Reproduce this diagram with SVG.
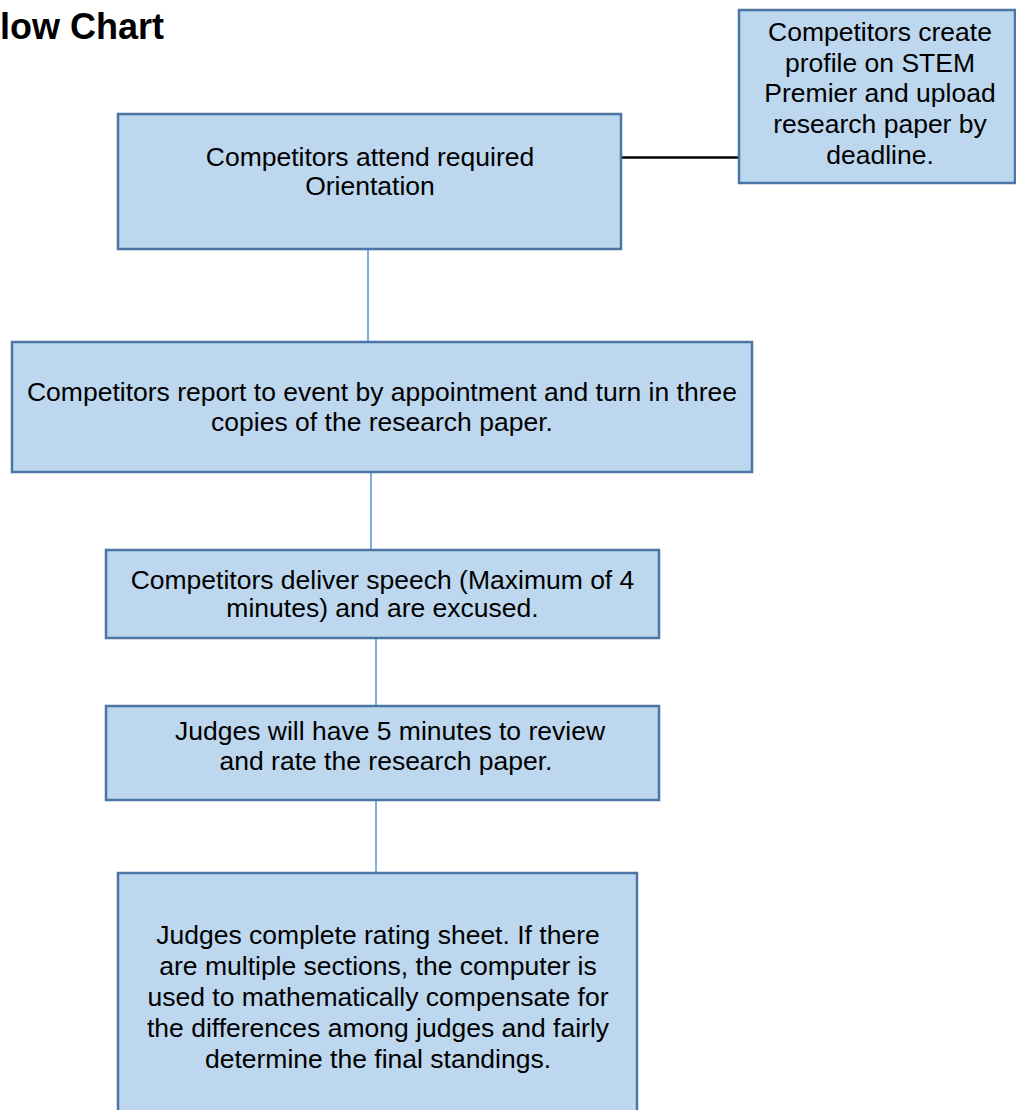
<svg xmlns="http://www.w3.org/2000/svg" width="1016" height="1110" viewBox="0 0 1016 1110">
  <style>
    .box { fill: #bdd7ee; stroke: #4a75a5; stroke-width: 2.5; }
    .txt { font-family: "Liberation Sans", Arial, sans-serif; font-size: 26.5px; fill: #000; text-anchor: middle; }
    .title { font-family: "Liberation Sans", Arial, sans-serif; font-size: 36px; font-weight: bold; fill: #000; }
    .vline { stroke: #7eaedf; stroke-width: 2; fill: none; }
    .hline { stroke: #000; stroke-width: 2.5; fill: none; }
  </style>
  <rect width="1016" height="1110" fill="#ffffff"/>
  <text class="title" x="0" y="39">low Chart</text>

  <g id="connectors">
    <line class="hline" x1="621" y1="157.5" x2="739" y2="157.5"/>
    <line class="vline" x1="368" y1="245" x2="368" y2="342"/>
    <line class="vline" x1="371" y1="467" x2="371" y2="550"/>
    <line class="vline" x1="376" y1="636" x2="376" y2="706"/>
    <line class="vline" x1="376" y1="800" x2="376" y2="873"/>
  </g>

  <g id="node-stem">
    <rect class="box" x="739" y="10" width="276" height="173"/>
    <text class="txt" x="880" y="41">Competitors create</text>
    <text class="txt" x="880" y="72">profile on STEM</text>
    <text class="txt" x="880" y="102">Premier and upload</text>
    <text class="txt" x="880" y="133">research paper by</text>
    <text class="txt" x="880" y="164">deadline.</text>
  </g>

  <g id="node-orientation">
    <rect class="box" x="118" y="114" width="503" height="135"/>
    <text class="txt" x="370" y="166">Competitors attend required</text>
    <text class="txt" x="370" y="195">Orientation</text>
  </g>

  <g id="node-report">
    <rect class="box" x="12" y="342" width="740" height="130"/>
    <text class="txt" x="382" y="401">Competitors report to event by appointment and turn in three</text>
    <text class="txt" x="382" y="431">copies of the research paper.</text>
  </g>

  <g id="node-speech">
    <rect class="box" x="106" y="550" width="553" height="88"/>
    <text class="txt" x="382.5" y="589">Competitors deliver speech (Maximum of 4</text>
    <text class="txt" x="382.5" y="617">minutes) and are excused.</text>
  </g>

  <g id="node-review">
    <rect class="box" x="106" y="706" width="553" height="94"/>
    <text class="txt" x="390" y="740">Judges will have 5 minutes to review</text>
    <text class="txt" x="386" y="770">and rate the research paper.</text>
  </g>

  <g id="node-rating">
    <rect class="box" x="118" y="873" width="519" height="245"/>
    <text class="txt" x="378" y="944">Judges complete rating sheet. If there</text>
    <text class="txt" x="378" y="975">are multiple sections, the computer is</text>
    <text class="txt" x="378" y="1006">used to mathematically compensate for</text>
    <text class="txt" x="378" y="1037">the differences among judges and fairly</text>
    <text class="txt" x="378" y="1068">determine the final standings.</text>
  </g>
</svg>
